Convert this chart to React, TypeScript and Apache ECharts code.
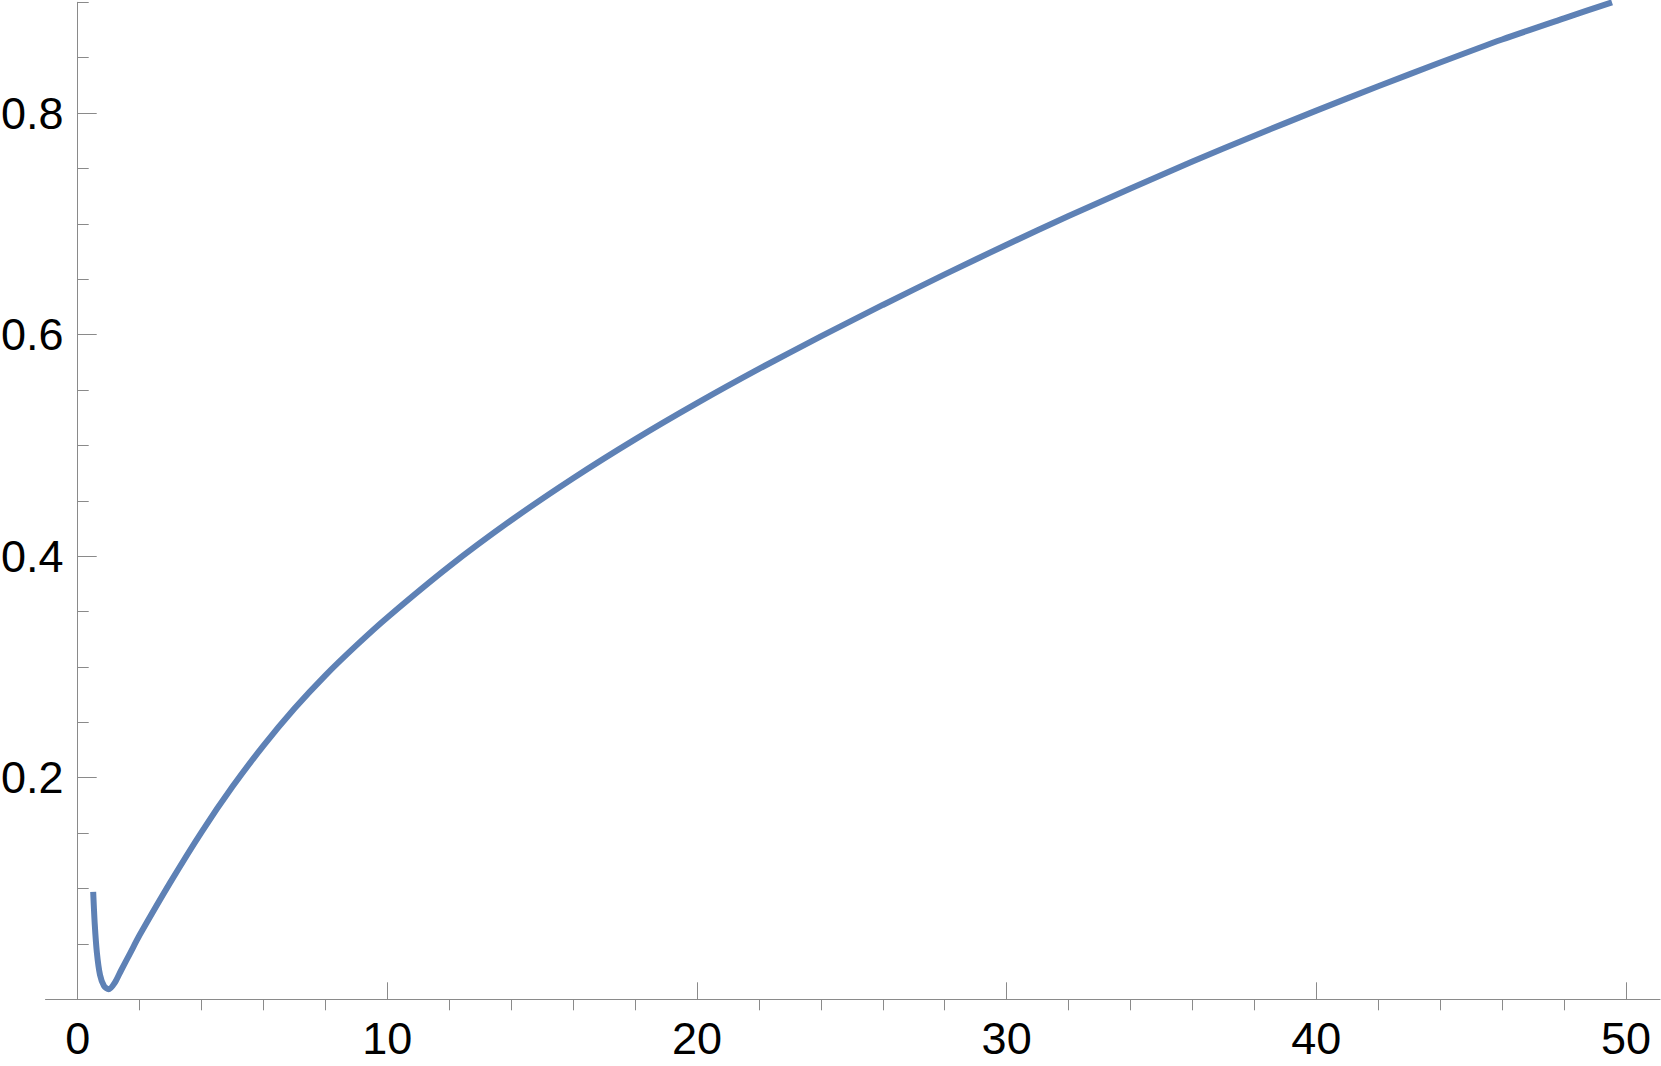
import React, { useEffect, useRef } from "react";
import * as echarts from "echarts";

const xValues = [
  0.5, 0.55, 0.62, 0.72, 0.85, 1.0, 1.2, 1.4, 1.7, 2, 3, 4, 5, 6, 7, 8, 9, 10,
  12, 14, 16, 18, 20, 22, 24, 26, 28, 30, 32, 34, 36, 38, 40, 42, 44, 46, 48, 49.55,
];
const yValues = [
  0.097, 0.068, 0.042, 0.022, 0.012, 0.009, 0.015, 0.026, 0.042, 0.058, 0.106, 0.151, 0.192,
  0.229, 0.2625, 0.2925, 0.3195, 0.3447, 0.3908, 0.4324, 0.4704, 0.5055, 0.5382, 0.5691,
  0.5984, 0.6268, 0.6544, 0.6812, 0.707, 0.732, 0.7562, 0.7796, 0.8022, 0.8242, 0.8456,
  0.8664, 0.8855, 0.9,
];

const xMajorTicks = [0, 10, 20, 30, 40, 50];
const xMinorTicks = [
  2, 4, 6, 8, 12, 14, 16, 18, 22, 24, 26, 28, 32, 34, 36, 38, 42, 44, 46, 48,
];
const yMajorTicks = [0.2, 0.4, 0.6, 0.8];
const yMinorTicks = [0.05, 0.1, 0.15, 0.25, 0.3, 0.35, 0.45, 0.5, 0.55, 0.65, 0.7, 0.75, 0.85, 0.9];

const X_MIN = -1.04;
const X_MAX = 51.1;
const Y_MIN = 0;
const Y_MAX = 0.9;

const AXIS_COLOR = "#8a8a8a";
const FONT = "'Liberation Sans', Arial, sans-serif";

export default function App() {
  const ref = useRef<HTMLDivElement>(null);

  useEffect(() => {
    document.body.style.margin = "0";
    if (!ref.current) return;
    const chart = echarts.init(ref.current, undefined, { renderer: "svg" });

    const baseX = {
      type: "value",
      min: X_MIN,
      max: X_MAX,
      splitLine: { show: false },
      axisLine: { onZero: true, lineStyle: { color: AXIS_COLOR, width: 1 } },
    };
    const baseY = {
      type: "value",
      min: Y_MIN,
      max: Y_MAX,
      position: "left",
      splitLine: { show: false },
      axisLine: { onZero: true, onZeroAxisIndex: 0, lineStyle: { color: AXIS_COLOR, width: 1 } },
    };

    chart.setOption({
      animation: false,
      backgroundColor: "#ffffff",
      grid: {
        left: 45.5,
        right: 1,
        top: 2.3,
        bottom: 66.7,
        containLabel: false,
        outerBoundsMode: "none",
      },
      xAxis: [
        {
          ...baseX,
          axisTick: {
            show: true,
            inside: true,
            length: 17,
            customValues: xMajorTicks,
            lineStyle: { color: AXIS_COLOR, width: 1 },
          },
          axisLabel: {
            customValues: xMajorTicks,
            color: "#000000",
            fontSize: 45,
            fontFamily: FONT,
            margin: 17,
          },
        },
        {
          ...baseX,
          axisLine: { show: false },
          axisTick: {
            show: true,
            inside: true,
            length: 11,
            customValues: xMinorTicks,
            lineStyle: { color: AXIS_COLOR, width: 1 },
          },
          axisLabel: { show: false },
        },
      ],
      yAxis: [
        {
          ...baseY,
          axisTick: {
            show: true,
            inside: true,
            length: 19,
            customValues: yMajorTicks,
            lineStyle: { color: AXIS_COLOR, width: 1 },
          },
          axisLabel: {
            customValues: yMajorTicks,
            color: "#000000",
            fontSize: 45,
            fontFamily: FONT,
            margin: -18,
            formatter: (v: number) => v.toFixed(1),
          },
        },
        {
          ...baseY,
          axisLine: { show: false, onZero: true, onZeroAxisIndex: 0 },
          axisTick: {
            show: true,
            inside: true,
            length: 11,
            customValues: yMinorTicks,
            lineStyle: { color: AXIS_COLOR, width: 1 },
          },
          axisLabel: { show: false },
        },
      ],
      series: [
        {
          type: "line",
          xAxisIndex: 0,
          yAxisIndex: 0,
          data: xValues.map((x, i) => [x, yValues[i]]),
          showSymbol: false,
          smooth: 0.25,
          lineStyle: { color: "#5e81b5", width: 6, cap: "butt" },
          itemStyle: { color: "#5e81b5" },
        },
      ],
    });

    return () => chart.dispose();
  }, []);

  return <div ref={ref} style={{ width: 1661, height: 1066 }} />;
}
